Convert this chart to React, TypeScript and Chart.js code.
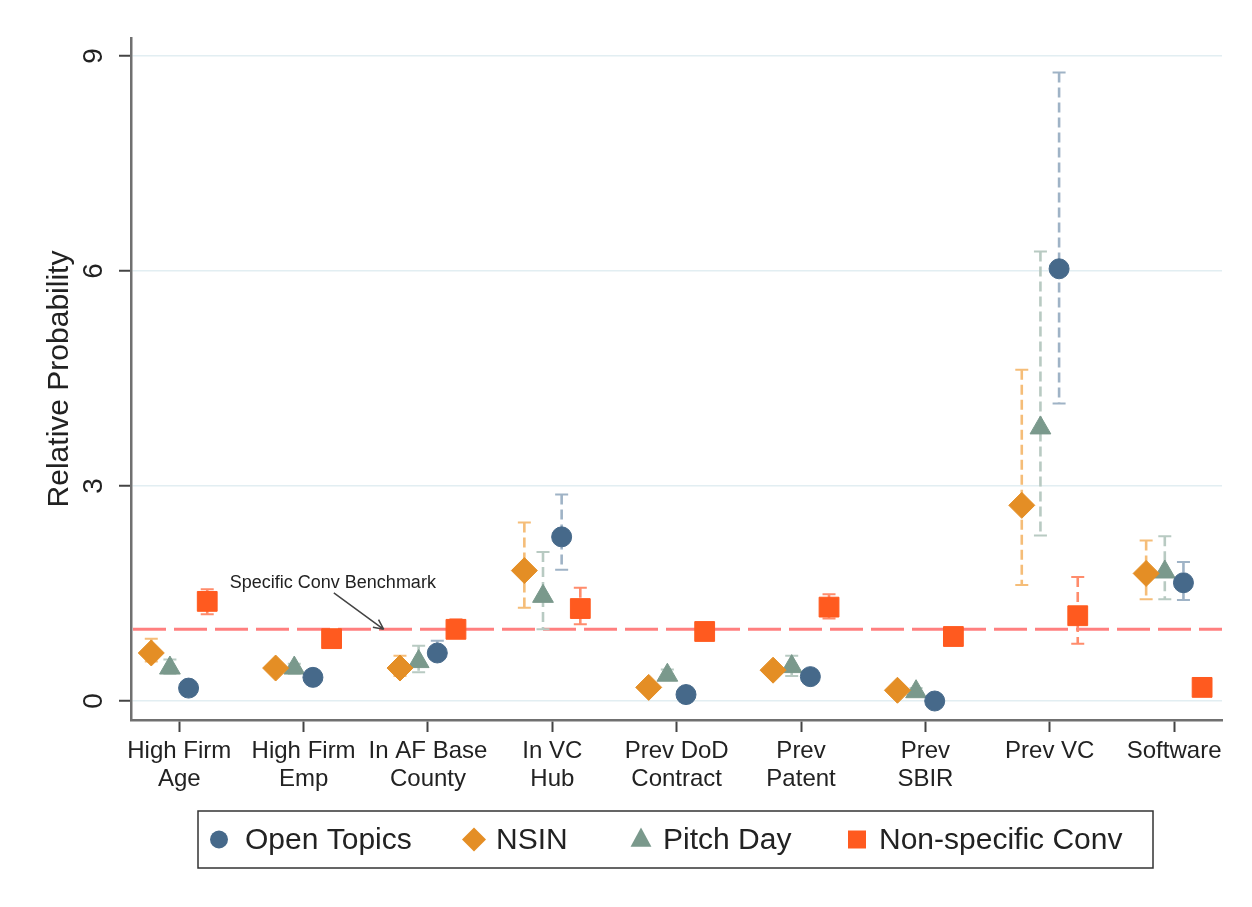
import React, { useEffect, useRef } from 'react';
import { Chart, registerables } from 'chart.js';

Chart.register(...registerables);

// ---------- data ----------
const categories: string[][] = [
  ['High Firm', 'Age'],
  ['High Firm', 'Emp'],
  ['In AF Base', 'County'],
  ['In VC', 'Hub'],
  ['Prev DoD', 'Contract'],
  ['Prev', 'Patent'],
  ['Prev', 'SBIR'],
  ['Prev VC'],
  ['Software'],
];
const yTicks = [0, 3, 6, 9];
const benchmarkValue = 1;
const benchmarkLabel = 'Specific Conv Benchmark';
const yTitle = 'Relative Probability';

const openTopics = [0.18, 0.33, 0.67, 2.29, 0.09, 0.34, 0.0, 6.03, 1.65];
const openLo = [0.13, 0.28, 0.58, 1.83, 0.05, 0.29, -0.03, 4.15, 1.41];
const openHi = [0.23, 0.38, 0.84, 2.88, 0.13, 0.4, 0.03, 8.77, 1.94];

const nsin = [0.67, 0.46, 0.46, 1.82, 0.19, 0.43, 0.15, 2.73, 1.78];
const nsinLo = [0.55, 0.4, 0.35, 1.3, 0.15, 0.38, 0.11, 1.62, 1.42];
const nsinHi = [0.87, 0.52, 0.63, 2.49, 0.24, 0.49, 0.2, 4.62, 2.24];

const pitchDay = [0.46, 0.46, 0.55, 1.46, 0.36, 0.48, 0.13, 3.81, 1.8];
const pitchLo = [0.38, 0.38, 0.4, 1.0, 0.3, 0.35, 0.09, 2.31, 1.42];
const pitchHi = [0.58, 0.52, 0.77, 2.08, 0.44, 0.63, 0.18, 6.27, 2.3];

const nonSpec = [1.39, 0.87, 1.0, 1.29, 0.97, 1.31, 0.9, 1.19, 0.19];
const nonSpecLo = [1.21, 0.8, 0.9, 1.07, 0.9, 1.15, 0.84, 0.8, 0.15];
const nonSpecHi = [1.56, 0.95, 1.14, 1.58, 1.05, 1.49, 0.97, 1.73, 0.24];

// ---------- series config ----------
type Series = {
  name: string;
  values: number[];
  lo: number[];
  hi: number[];
  offset: number;
  color: string;
  ciColor: string;
  style: 'circle' | 'rectRot' | 'triangle' | 'rect';
  radius: number;
};

const series: Series[] = [
  { name: 'Open Topics', values: openTopics, lo: openLo, hi: openHi, offset: 0.075, color: '#46698a', ciColor: '#9fb3c6', style: 'circle', radius: 10 },
  { name: 'NSIN', values: nsin, lo: nsinLo, hi: nsinHi, offset: -0.225, color: '#e48e25', ciColor: '#f5bd78', style: 'rectRot', radius: 13 },
  { name: 'Pitch Day', values: pitchDay, lo: pitchLo, hi: pitchHi, offset: -0.075, color: '#7a998c', ciColor: '#b8cac2', style: 'triangle', radius: 12 },
  { name: 'Non-specific Conv', values: nonSpec, lo: nonSpecLo, hi: nonSpecHi, offset: 0.225, color: '#ff5a1f', ciColor: '#ff8c6c', style: 'rect', radius: 14 },
];

const FONT = '"Liberation Sans", Arial, sans-serif';

function drawMarker(ctx: CanvasRenderingContext2D, style: string, cx: number, cy: number, r: number, color: string) {
  ctx.save();
  ctx.fillStyle = color;
  ctx.beginPath();
  if (style === 'circle') {
    ctx.arc(cx, cy, r, 0, Math.PI * 2);
  } else if (style === 'rectRot') {
    ctx.moveTo(cx, cy - r);
    ctx.lineTo(cx + r, cy);
    ctx.lineTo(cx, cy + r);
    ctx.lineTo(cx - r, cy);
    ctx.closePath();
  } else if (style === 'triangle') {
    ctx.moveTo(cx, cy - r);
    ctx.lineTo(cx + r * 0.87, cy + r * 0.6);
    ctx.lineTo(cx - r * 0.87, cy + r * 0.6);
    ctx.closePath();
  } else {
    ctx.rect(cx - r, cy - r, 2 * r, 2 * r);
  }
  ctx.fill();
  ctx.restore();
}

const overlayPlugin = {
  id: 'overlay',
  beforeDatasetsDraw(chart: any) {
    const { ctx, chartArea } = chart;
    const x = chart.scales.x;
    const y = chart.scales.y;
    ctx.save();
    // benchmark line
    const yb = y.getPixelForValue(benchmarkValue);
    ctx.strokeStyle = 'rgba(255,105,105,0.85)';
    ctx.lineWidth = 3;
    ctx.setLineDash([33, 8]);
    ctx.beginPath();
    ctx.moveTo(chartArea.left + 2, yb);
    ctx.lineTo(chartArea.right, yb);
    ctx.stroke();

    // error bars
    series.forEach((s) => {
      s.values.forEach((_, i) => {
        const px = x.getPixelForValue(i + 1 + s.offset);
        const pLo = y.getPixelForValue(s.lo[i]);
        const pHi = y.getPixelForValue(s.hi[i]);
        ctx.strokeStyle = s.ciColor;
        ctx.lineWidth = 2.6;
        ctx.setLineDash([10, 5]);
        ctx.beginPath();
        ctx.moveTo(px, pHi);
        ctx.lineTo(px, pLo);
        ctx.stroke();
        ctx.setLineDash([]);
        ctx.lineWidth = 2;
        ctx.beginPath();
        ctx.moveTo(px - 6.5, pHi);
        ctx.lineTo(px + 6.5, pHi);
        ctx.moveTo(px - 6.5, pLo);
        ctx.lineTo(px + 6.5, pLo);
        ctx.stroke();
      });
    });
    ctx.restore();
  },
  afterDraw(chart: any) {
    const { ctx } = chart;
    const x = chart.scales.x;
    const y = chart.scales.y;
    ctx.save();

    // y tick labels (rotated)
    ctx.fillStyle = '#222';
    ctx.font = `28px ${FONT}`;
    ctx.textAlign = 'center';
    ctx.textBaseline = 'middle';
    yTicks.forEach((v) => {
      const py = y.getPixelForValue(v);
      ctx.save();
      ctx.translate(94, py);
      ctx.rotate(-Math.PI / 2);
      ctx.fillText(String(v), 0, 0);
      ctx.restore();
    });

    // annotation
    const tx = x.getPixelForValue(2.235);
    const ty = y.getPixelForValue(1.65);
    ctx.font = `18px ${FONT}`;
    ctx.fillStyle = '#222';
    ctx.textAlign = 'center';
    ctx.textBaseline = 'middle';
    ctx.fillText(benchmarkLabel, tx, ty);
    const ax1 = x.getPixelForValue(2.243);
    const ay1 = y.getPixelForValue(1.51);
    const ax2 = x.getPixelForValue(2.644);
    const ay2 = y.getPixelForValue(benchmarkValue);
    ctx.strokeStyle = '#444';
    ctx.lineWidth = 1.5;
    ctx.beginPath();
    ctx.moveTo(ax1, ay1);
    ctx.lineTo(ax2, ay2);
    const ang = Math.atan2(ay2 - ay1, ax2 - ax1);
    const hl = 11;
    ctx.moveTo(ax2, ay2);
    ctx.lineTo(ax2 - hl * Math.cos(ang - 0.45), ay2 - hl * Math.sin(ang - 0.45));
    ctx.moveTo(ax2, ay2);
    ctx.lineTo(ax2 - hl * Math.cos(ang + 0.45), ay2 - hl * Math.sin(ang + 0.45));
    ctx.stroke();

    // legend
    const boxL = 198, boxT = 811, boxR = 1153, boxB = 868;
    ctx.fillStyle = '#fff';
    ctx.fillRect(boxL, boxT, boxR - boxL, boxB - boxT);
    ctx.strokeStyle = '#333';
    ctx.lineWidth = 1.5;
    ctx.strokeRect(boxL, boxT, boxR - boxL, boxB - boxT);
    const cy = (boxT + boxB) / 2;
    const markerX = [219, 474, 641, 857];
    const legendSize = [9, 12, 12, 9];
    ctx.font = `30px ${FONT}`;
    ctx.textAlign = 'left';
    ctx.textBaseline = 'middle';
    series.forEach((s, i) => {
      drawMarker(ctx, s.style, markerX[i], cy, legendSize[i], s.color);
      ctx.fillStyle = '#222';
      ctx.fillText(s.name, markerX[i] + (i === 0 ? 26 : 22), cy + 1);
    });

    ctx.restore();
  },
};

export default function App() {
  const canvasRef = useRef<HTMLCanvasElement | null>(null);

  useEffect(() => {
    if (!canvasRef.current) return;
    const datasets = series.map((s) => ({
      label: s.name,
      data: s.values.map((v, i) => ({ x: i + 1 + s.offset, y: v })),
      showLine: false,
      pointStyle: s.style,
      pointRadius: s.radius,
      pointHoverRadius: s.radius,
      backgroundColor: s.color,
      borderColor: s.color,
      borderWidth: 1,
    }));
    const chart = new Chart(canvasRef.current, {
      type: 'scatter',
      data: { datasets },
      plugins: [overlayPlugin],
      options: {
        animation: false,
        responsive: false,
        devicePixelRatio: 1,
        layout: { padding: { left: 0, right: 30, top: 38, bottom: 100 } },
        plugins: {
          legend: { display: false },
          tooltip: { enabled: false },
        },
        scales: {
          x: {
            type: 'linear',
            min: 0.612,
            max: 9.385,
            afterBuildTicks: (scale: any) => {
              scale.ticks = categories.map((_, i) => ({ value: i + 1 }));
            },
            afterFit: (scale: any) => {
              scale.height = 87;
            },
            ticks: {
              autoSkip: false,
              maxRotation: 0,
              minRotation: 0,
              padding: 6,
              color: '#222',
              font: { family: FONT, size: 24, lineHeight: 1.15 },
              callback: (v: any) => categories[Math.round(v) - 1] ?? '',
            },
            grid: {
              drawOnChartArea: false,
              drawTicks: true,
              tickLength: 12,
              tickColor: '#444',
              tickWidth: 2,
            },
            border: { display: true, color: '#707070', width: 2.5 },
          },
          y: {
            type: 'linear',
            min: -0.265,
            max: 9.25,
            afterBuildTicks: (scale: any) => {
              scale.ticks = yTicks.map((v) => ({ value: v }));
            },
            afterFit: (scale: any) => {
              scale.width = 131;
            },
            ticks: { display: false },
            grid: {
              color: '#e2eef2',
              lineWidth: 1.5,
              drawTicks: true,
              tickLength: 12,
              tickColor: '#444',
              tickWidth: 2,
            },
            border: { display: true, color: '#707070', width: 2.5 },
            title: {
              display: true,
              text: yTitle,
              color: '#222',
              font: { family: FONT, size: 30 },
              padding: { top: 42, bottom: 0 },
            },
          },
        },
      },
    } as any);
    return () => chart.destroy();
  }, []);

  return (
    <div style={{ position: 'absolute', left: 0, top: 0, width: 1252, height: 907, background: '#fff' }}>
      <canvas ref={canvasRef} width={1252} height={907} style={{ width: 1252, height: 907 }} />
    </div>
  );
}
